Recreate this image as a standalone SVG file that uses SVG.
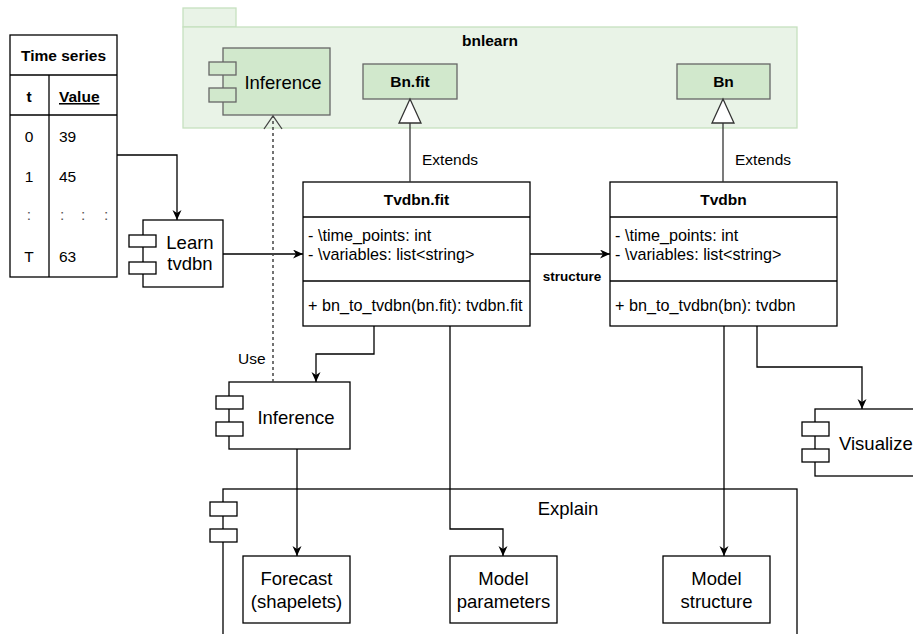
<svg xmlns="http://www.w3.org/2000/svg" width="913" height="634" viewBox="0 0 913 634">
<style>
text{font-family:"Liberation Sans",Arial,sans-serif;fill:#000}
.b{font-weight:bold}
.c{text-anchor:middle}
.f15{font-size:15.5px}
.f16{font-size:16.2px}
.f18{font-size:18.5px}
.box{fill:#fff;stroke:#000;stroke-width:1.3}
.gbox{fill:#d1e8cc;stroke:#666;stroke-width:1.3}
.ln{fill:none;stroke:#000;stroke-width:1.3}
.gl{fill:none;stroke:#333;stroke-width:1.3}
</style>
<defs>
<marker id="arr" markerWidth="12" markerHeight="10" refX="10" refY="4.5" orient="auto" markerUnits="userSpaceOnUse">
<path d="M0,0 L10,4.5 L0,9 L3,4.5 Z" fill="#000"/>
</marker>
</defs>

<g id="bnlearn">
<rect x="183" y="8" width="53" height="19" fill="#e9f3e7" stroke="#c6e1bf" stroke-width="1.3"/>
<rect x="183" y="27" width="614" height="101" fill="#e9f3e7" stroke="#c6e1bf" stroke-width="1.3"/>
<text x="490" y="46" class="b c f15">bnlearn</text>
</g>

<g id="inference-bn">
<rect x="223" y="48" width="107" height="67" class="gbox"/>
<rect x="209" y="62" width="27" height="13" class="gbox"/>
<rect x="209" y="88" width="27" height="14" class="gbox"/>
<text x="283" y="88.5" class="c f18">Inference</text>
</g>

<g id="bnfit">
<rect x="363" y="64" width="94" height="35" class="gbox"/>
<text x="410" y="87" class="b c f15">Bn.fit</text>
</g>

<g id="bn">
<rect x="677" y="64" width="93" height="35" class="gbox"/>
<text x="723.5" y="87" class="b c f15">Bn</text>
</g>

<g id="timeseries">
<rect x="10" y="35" width="107" height="242" class="box"/>
<line x1="10" y1="75" x2="117" y2="75" class="ln"/>
<line x1="10" y1="115" x2="117" y2="115" class="ln"/>
<line x1="49" y1="75" x2="49" y2="277" class="ln"/>
<text x="63.5" y="61" class="b c f15">Time series</text>
<text x="29" y="102" class="b c f15">t</text>
<text x="59" y="102" class="b f15" text-decoration="underline">Value</text>
<text x="29" y="142" class="c f15">0</text>
<text x="59" y="142" class="f15">39</text>
<text x="29" y="182" class="c f15">1</text>
<text x="59" y="182" class="f15">45</text>
<text x="29" y="220" class="c f15" style="fill:#555">:</text>
<text x="60" y="220" class="f15" style="fill:#555">:</text>
<text x="81" y="220" class="f15" style="fill:#555">:</text>
<text x="104" y="220" class="f15" style="fill:#555">:</text>
<text x="29" y="262" class="c f15">T</text>
<text x="59" y="262" class="f15">63</text>
</g>

<g id="learn">
<rect x="143" y="220" width="80" height="67" class="box"/>
<rect x="129" y="235" width="27" height="12" class="box"/>
<rect x="129" y="262" width="27" height="12" class="box"/>
<text x="190" y="248.5" class="c f18">Learn</text>
<text x="190" y="269.5" class="c f18">tvdbn</text>
</g>

<g id="tvdbnfit">
<rect x="303" y="182" width="227" height="144" class="box"/>
<line x1="303" y1="217" x2="530" y2="217" class="ln"/>
<line x1="303" y1="281" x2="530" y2="281" class="ln"/>
<text x="416.5" y="205" class="b c f15">Tvdbn.fit</text>
<text x="308" y="240.5" class="f16">- \time_points: int</text>
<text x="308" y="259.5" class="f16">- \variables: list&lt;string&gt;</text>
<text x="308" y="311" class="f16">+ bn_to_tvdbn(bn.fit): tvdbn.fit</text>
</g>

<g id="tvdbn">
<rect x="610" y="182" width="227" height="144" class="box"/>
<line x1="610" y1="217" x2="837" y2="217" class="ln"/>
<line x1="610" y1="281" x2="837" y2="281" class="ln"/>
<text x="723.5" y="205" class="b c f15">Tvdbn</text>
<text x="615" y="240.5" class="f16">- \time_points: int</text>
<text x="615" y="259.5" class="f16">- \variables: list&lt;string&gt;</text>
<text x="615" y="311" class="f16">+ bn_to_tvdbn(bn): tvdbn</text>
</g>

<g id="inference">
<rect x="229" y="382" width="121" height="67" class="box"/>
<rect x="216" y="396" width="27" height="13" class="box"/>
<rect x="216" y="422" width="27" height="14" class="box"/>
<text x="296" y="423.5" class="c f18">Inference</text>
</g>

<g id="visualize">
<rect x="815" y="409" width="130" height="67" class="box"/>
<rect x="802" y="422" width="27" height="14" class="box"/>
<rect x="802" y="449" width="27" height="13" class="box"/>
<text x="839" y="449.5" class="f18">Visualize</text>
</g>

<g id="explain">
<rect x="223" y="489" width="574" height="180" fill="none" stroke="#000" stroke-width="1.3"/>
<rect x="210" y="502" width="27" height="14" class="box"/>
<rect x="210" y="529" width="27" height="13" class="box"/>
<text x="568" y="515" class="c f18">Explain</text>
</g>

<g id="forecast">
<rect x="243" y="556" width="107" height="67" class="box"/>
<text x="296.5" y="584.5" class="c f18">Forecast</text>
<text x="296.5" y="608" class="c f18">(shapelets)</text>
</g>

<g id="modelparams">
<rect x="450" y="556" width="107" height="67" class="box"/>
<text x="503.5" y="584.5" class="c f18">Model</text>
<text x="503.5" y="608" class="c f18">parameters</text>
</g>

<g id="modelstructure">
<rect x="663" y="556" width="107" height="67" class="box"/>
<text x="716.5" y="584.5" class="c f18">Model</text>
<text x="716.5" y="608" class="c f18">structure</text>
</g>

<g id="connectors">
<polyline points="117,155 177,155 177,220" class="ln" marker-end="url(#arr)"/>
<line x1="223" y1="254" x2="303" y2="254" class="ln" marker-end="url(#arr)"/>
<line x1="530" y1="254" x2="610" y2="254" class="ln" marker-end="url(#arr)"/>
<text x="572" y="281" class="b c" style="font-size:13.5px">structure</text>

<line x1="410" y1="182" x2="410" y2="123" class="gl"/>
<polygon points="410,99 399,123 421,123" fill="#fff" stroke="#333" stroke-width="1.3"/>
<text x="422" y="165" style="font-size:15.5px">Extends</text>
<line x1="723" y1="182" x2="723" y2="123" class="gl"/>
<polygon points="723,99 712,123 734,123" fill="#fff" stroke="#333" stroke-width="1.3"/>
<text x="735" y="165" style="font-size:15.5px">Extends</text>

<line x1="273" y1="382" x2="273" y2="116" fill="none" stroke="#444" stroke-width="1.5" stroke-dasharray="3,3"/>
<polyline points="264,129 273,116 282,129" fill="none" stroke="#444" stroke-width="1.3"/>
<text x="238" y="364" style="font-size:15.5px">Use</text>

<polyline points="374,326 374,354 316,354 316,382" class="ln" marker-end="url(#arr)"/>
<polyline points="450,326 450,529 503,529 503,556" class="ln" marker-end="url(#arr)"/>
<line x1="297" y1="449" x2="297" y2="556" class="ln" marker-end="url(#arr)"/>
<line x1="724" y1="326" x2="724" y2="556" class="ln" marker-end="url(#arr)"/>
<polyline points="757,326 757,367 862,367 862,409" class="ln" marker-end="url(#arr)"/>
</g>
</svg>
